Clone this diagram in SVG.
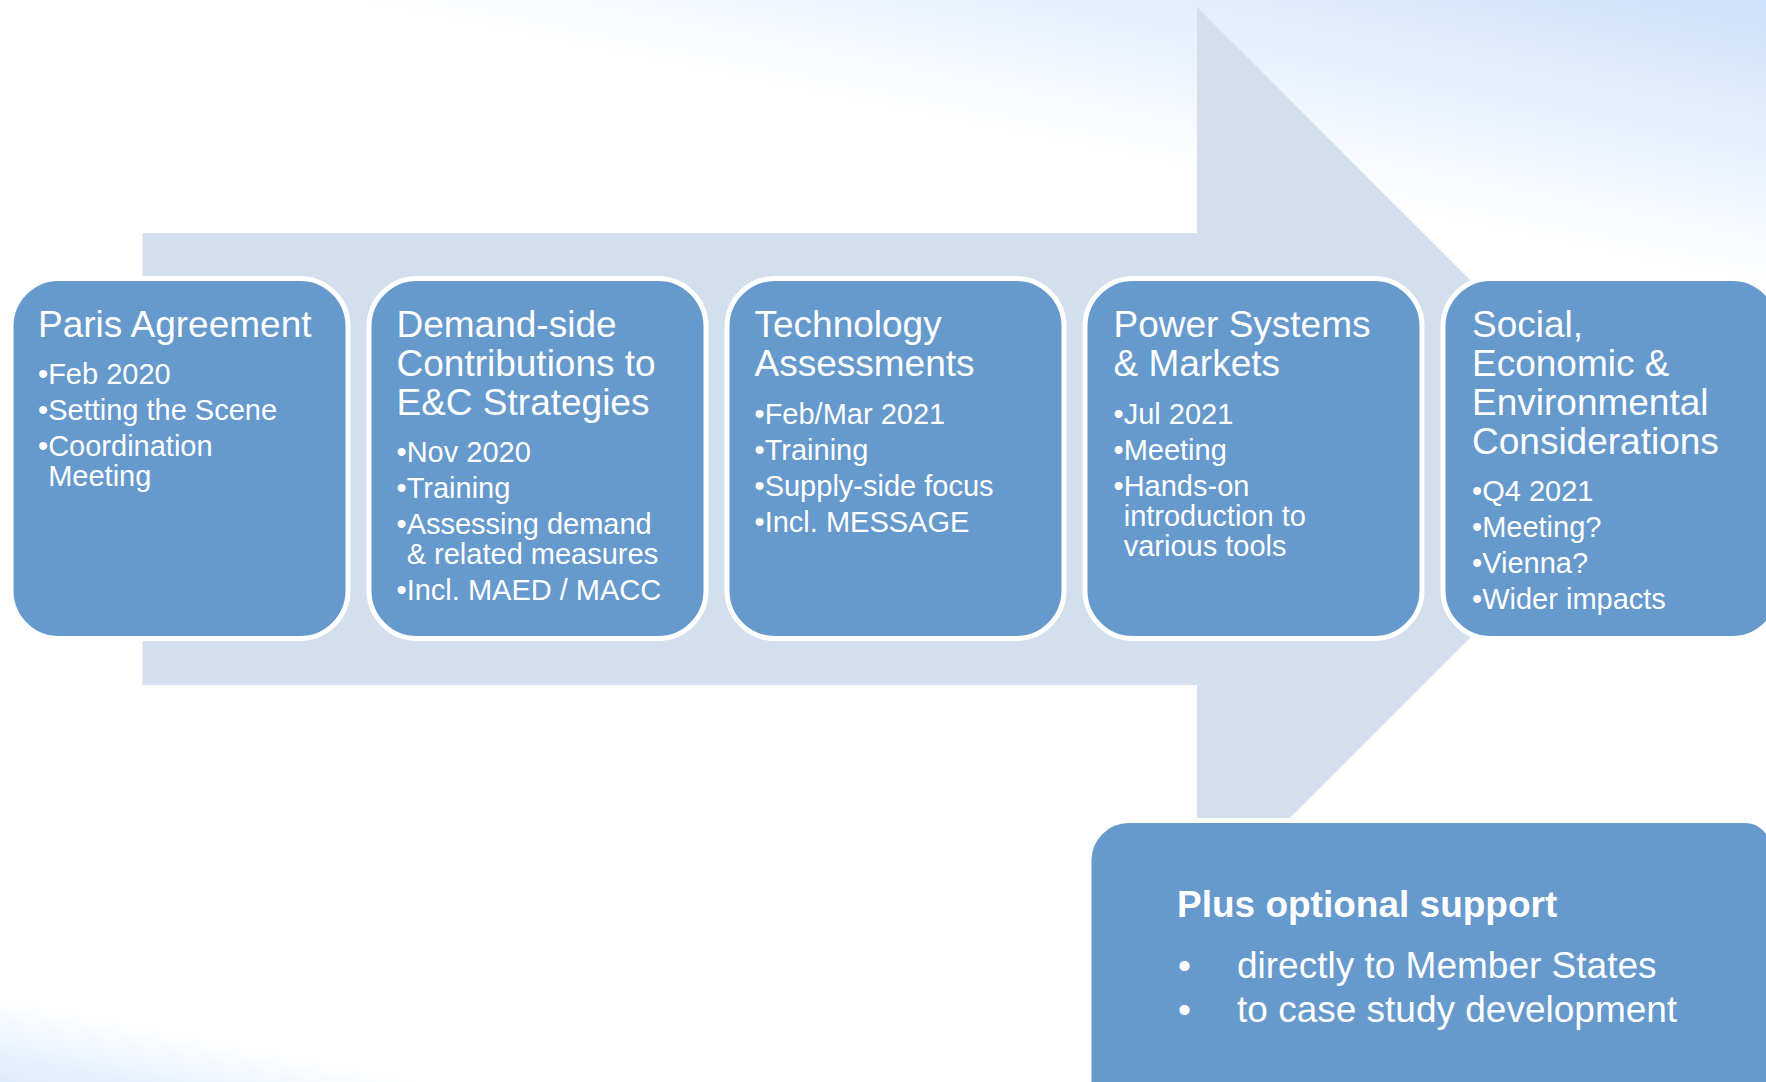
<svg xmlns="http://www.w3.org/2000/svg" width="1766" height="1082" viewBox="0 0 1766 1082">
  <defs>
    <linearGradient id="bg" gradientUnits="userSpaceOnUse" x1="0" y1="1082" x2="276" y2="-298">
      <stop offset="0" stop-color="#dcebfc"/>
      <stop offset="0.06" stop-color="#ffffff"/>
      <stop offset="0.80" stop-color="#ffffff"/>
      <stop offset="1" stop-color="#cce1fa"/>
    </linearGradient>
  </defs>
  <style>
    .box { fill: #6699cc; stroke: #ffffff; stroke-width: 5; }
    .title { font-family: "Liberation Sans", Arial, sans-serif; font-size: 37px; fill: #ffffff; }
    .item { font-family: "Liberation Sans", Arial, sans-serif; font-size: 29px; fill: #ffffff; }
    .sup { font-family: "Liberation Sans", Arial, sans-serif; font-size: 37px; fill: #ffffff; }
    .bold { font-weight: bold; }
  </style>
  <rect x="0" y="0" width="1766" height="1082" fill="url(#bg)"/>

  <g id="connectors">
    <polygon points="142.5,233 1197,233 1197,7 1649,459 1197,911 1197,685 142.5,685" fill="#d3dfec"/>
  </g>

  <g id="node-paris">
    <rect class="box" x="11" y="278.5" width="337" height="360" rx="48" ry="48"/>
    <text class="title" x="38" y="337">Paris Agreement</text>
    <text class="item" x="38" y="384">•Feb 2020</text>
    <text class="item" x="38" y="420">•Setting the Scene</text>
    <text class="item" x="38" y="456">•Coordination</text>
    <text class="item" x="48.2" y="486">Meeting</text>
  </g>

  <g id="node-demand">
    <rect class="box" x="369" y="278.5" width="337" height="360" rx="48" ry="48"/>
    <text class="title" x="396.5" y="337">Demand-side</text>
    <text class="title" x="396.5" y="376">Contributions to</text>
    <text class="title" x="396.5" y="415">E&amp;C Strategies</text>
    <text class="item" x="396.5" y="462">•Nov 2020</text>
    <text class="item" x="396.5" y="498">•Training</text>
    <text class="item" x="396.5" y="534">•Assessing demand</text>
    <text class="item" x="406.7" y="564">&amp; related measures</text>
    <text class="item" x="396.5" y="600">•Incl. MAED / MACC</text>
  </g>

  <g id="node-tech">
    <rect class="box" x="727" y="278.5" width="337" height="360" rx="48" ry="48"/>
    <text class="title" x="754.5" y="337">Technology</text>
    <text class="title" x="754.5" y="376">Assessments</text>
    <text class="item" x="754.5" y="424">•Feb/Mar 2021</text>
    <text class="item" x="754.5" y="460">•Training</text>
    <text class="item" x="754.5" y="496">•Supply-side focus</text>
    <text class="item" x="754.5" y="532">•Incl. MESSAGE</text>
  </g>

  <g id="node-power">
    <rect class="box" x="1085" y="278.5" width="337" height="360" rx="48" ry="48"/>
    <text class="title" x="1113.5" y="337">Power Systems</text>
    <text class="title" x="1113.5" y="376">&amp; Markets</text>
    <text class="item" x="1113.5" y="424">•Jul 2021</text>
    <text class="item" x="1113.5" y="460">•Meeting</text>
    <text class="item" x="1113.5" y="496">•Hands-on</text>
    <text class="item" x="1123.7" y="526">introduction to</text>
    <text class="item" x="1123.7" y="556">various tools</text>
  </g>

  <g id="node-social">
    <rect class="box" x="1443" y="278.5" width="337" height="360" rx="48" ry="48"/>
    <text class="title" x="1472" y="337">Social,</text>
    <text class="title" x="1472" y="376">Economic &amp;</text>
    <text class="title" x="1472" y="415">Environmental</text>
    <text class="title" x="1472" y="454">Considerations</text>
    <text class="item" x="1472" y="501">•Q4 2021</text>
    <text class="item" x="1472" y="537">•Meeting?</text>
    <text class="item" x="1472" y="573">•Vienna?</text>
    <text class="item" x="1472" y="609">•Wider impacts</text>
  </g>

  <g id="node-support">
    <path class="box" d="M1089,1100 V860.5 A40,40 0 0 1 1129,820.5 H1745 A28,28 0 0 1 1773,848.5 V1100 Z"/>
    <text class="sup bold" x="1177" y="917">Plus optional support</text>
    <text class="sup" x="1178" y="977.5">•</text>
    <text class="sup" x="1237" y="977.5">directly to Member States</text>
    <text class="sup" x="1178" y="1021.5">•</text>
    <text class="sup" x="1237" y="1021.5">to case study development</text>
  </g>
</svg>
